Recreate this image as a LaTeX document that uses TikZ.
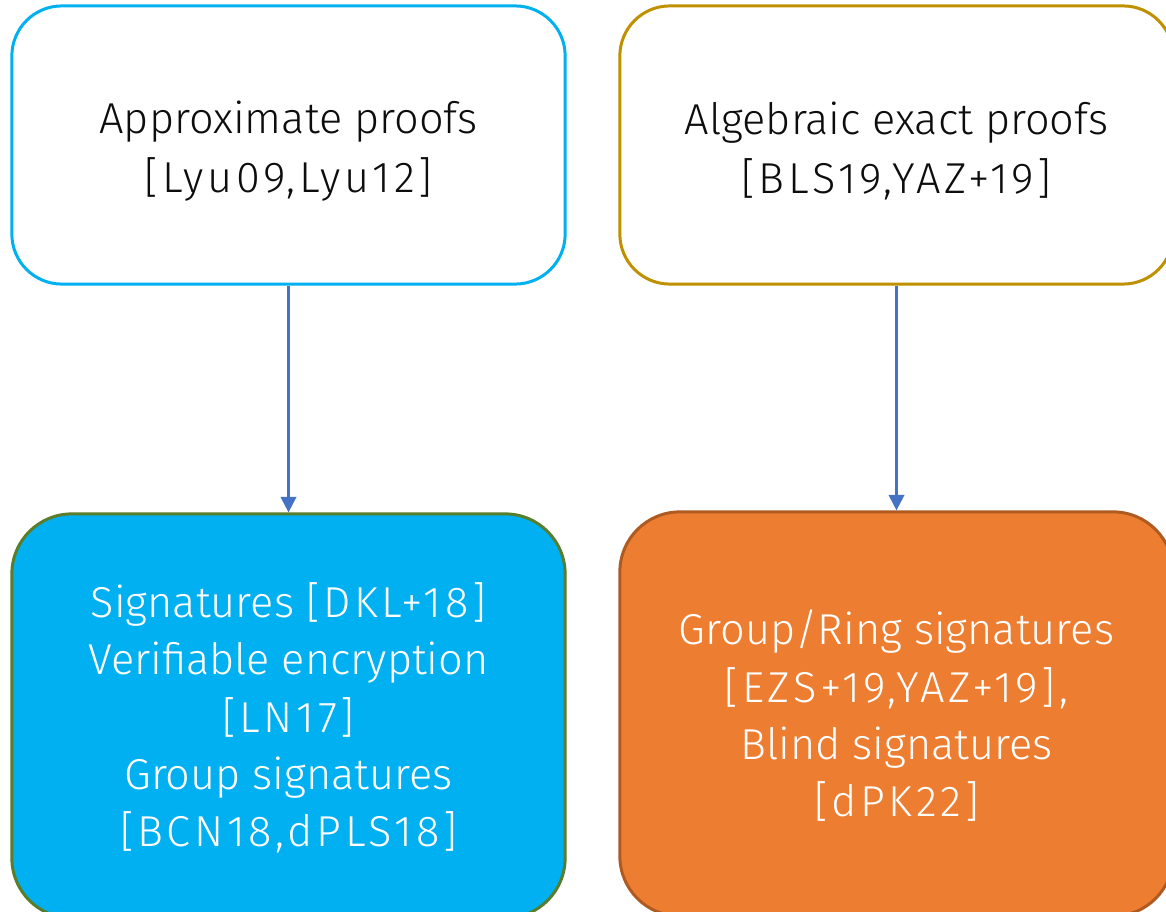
\documentclass[tikz,border=0pt]{standalone}
\usepackage{fontspec}
\setmainfont{Fira Sans Light}
\usetikzlibrary{arrows.meta}
\definecolor{skyblue}{HTML}{00B0F0}
\definecolor{goldline}{HTML}{BF9000}
\definecolor{olive}{HTML}{5A7D2C}
\definecolor{orangefill}{HTML}{ED7D31}
\definecolor{orangeline}{HTML}{AE5A21}
\definecolor{arrowblue}{HTML}{4472C4}
\definecolor{ink}{HTML}{0D0D0D}
% citation keys are set with wider tracking
\newcommand{\citekeys}[1]{{\addfontfeatures{LetterSpace=8.5}#1}}
\tikzset{
  card/.style={draw, rounded corners=0.5cm, line width=0.85pt, inner sep=0pt},
  topcard/.style={card, minimum width=5.53cm, minimum height=2.78cm, fill=white},
  lowcard/.style={card, rounded corners=0.6cm, minimum width=5.53cm, minimum height=4.04cm},
  toptext/.style={align=center, inner sep=0pt, text=ink,
    font=\fontsize{12.3}{16.8}\selectfont},
  lowtext/.style={align=center, inner sep=0pt, text=white,
    font=\fontsize{12.3}{16.3}\selectfont},
  link/.style={draw=arrowblue, line width=0.65pt, -{Triangle[width=4.4pt,length=4.4pt]}}
}
\begin{document}
\begin{tikzpicture}[x=0.01cm,y=-0.01cm]
\useasboundingbox (0,0) rectangle (1166,912);
\clip (0,0) rectangle (1166,912);
% boxes
\node[topcard, draw=skyblue] (approx) at (288.5,145) {};
\node[topcard, draw=goldline] (exact) at (896.5,145) {};
\node[lowcard, draw=olive, fill=skyblue] (apps1) at (288.5,716) {};
\node[lowcard, draw=orangeline, fill=orangefill] (apps2) at (896.5,714) {};
% texts
\node[toptext] (approx-t) at (288.5,151)
  {Approximate proofs\\\citekeys{[Lyu09,Lyu12]}};
\node[toptext] (exact-t) at (896.5,151)
  {Algebraic exact proofs\\\citekeys{[BLS19,YAZ+19]}};
\node[lowtext] (apps1-t) at (288.5,718)
  {Signatures \citekeys{[DKL+18]}\\Verifiable encryption\\\citekeys{[LN17]}\\Group signatures\\\citekeys{[BCN18,dPLS18]}};
\node[lowtext] (apps2-t) at (896.5,716)
  {Group/Ring signatures\\\citekeys{[EZS+19,YAZ+19],}\\Blind signatures\\\citekeys{[dPK22]}};
% links
\draw[link] (approx) -- (apps1);
\draw[link] (exact) -- (apps2);
\end{tikzpicture}
\end{document}
